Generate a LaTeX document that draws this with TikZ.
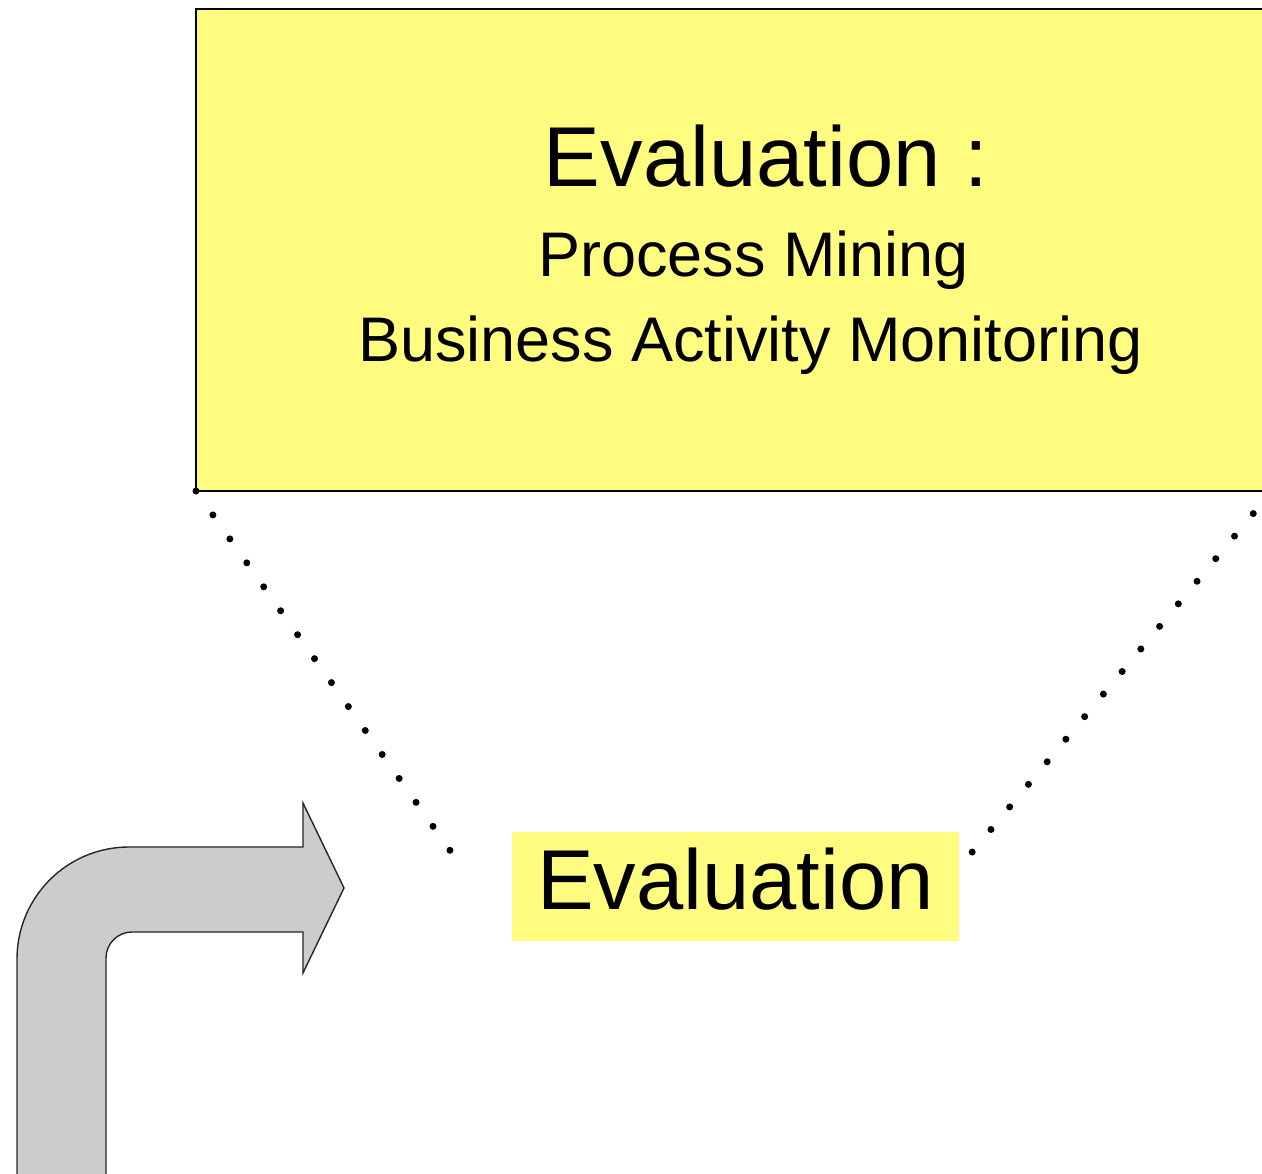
\documentclass[tikz,border=0pt]{standalone}
\usepackage{fontspec}
\setmainfont{Liberation Sans}
\definecolor{boxyellow}{RGB}{255,252,128}
\definecolor{arrowgray}{RGB}{204,204,204}
\begin{document}
\begin{tikzpicture}[x=1pt,y=-1pt,
  topbox/.style={draw=black, line width=2pt, fill=boxyellow, minimum width=1076pt,
                 minimum height=482pt, inner sep=0pt, outer sep=0pt},
  titletext/.style={font=\fontsize{85}{100}\selectfont, inner sep=0pt},
  subtext/.style={font=\fontsize{63}{75}\selectfont, inner sep=0pt},
  evbox/.style={fill=boxyellow, minimum width=447pt, minimum height=109pt, inner sep=0pt,
                text depth=16pt, font=\fontsize{85}{100}\selectfont},
  dotline/.style={line width=7pt, line cap=round, dash pattern=on 0pt off 29.33pt},
  bentarrow/.style={fill=arrowgray, draw=black!85, line width=1.4pt, line join=miter}
]
\useasboundingbox (0,0) rectangle (1262,1174);
\clip (0,0) rectangle (1262,1174);

% bent block arrow
\path[bentarrow] (17,1190) [rounded corners=112pt] -- (17,847) [sharp corners] -- (303,847)
   -- (303,803) -- (344,888) -- (303,973) -- (303,932) [rounded corners=26pt] -- (106,932)
   [sharp corners] -- (106,1190) -- cycle;

% upper yellow box
\node[topbox] (top) at (734,250) {};
\node[titletext, anchor=base] (t1) at (766,187) {Evaluation :};
\node[subtext, anchor=base] (t2) at (753.5,277) {Process Mining};
\node[subtext, anchor=base] (t3) at (750.5,362) {Business Activity Monitoring};

% lower label
\node[evbox] (ev) at (735.5,886.5) {Evaluation};

% dotted zoom lines
\coordinate (lend) at (451.5,852.5);
\coordinate (rend) at (971,853.5);
\draw[dotline] (top.south west) -- (lend);
\draw[dotline] (top.south east) -- (rend);
\end{tikzpicture}
\end{document}
